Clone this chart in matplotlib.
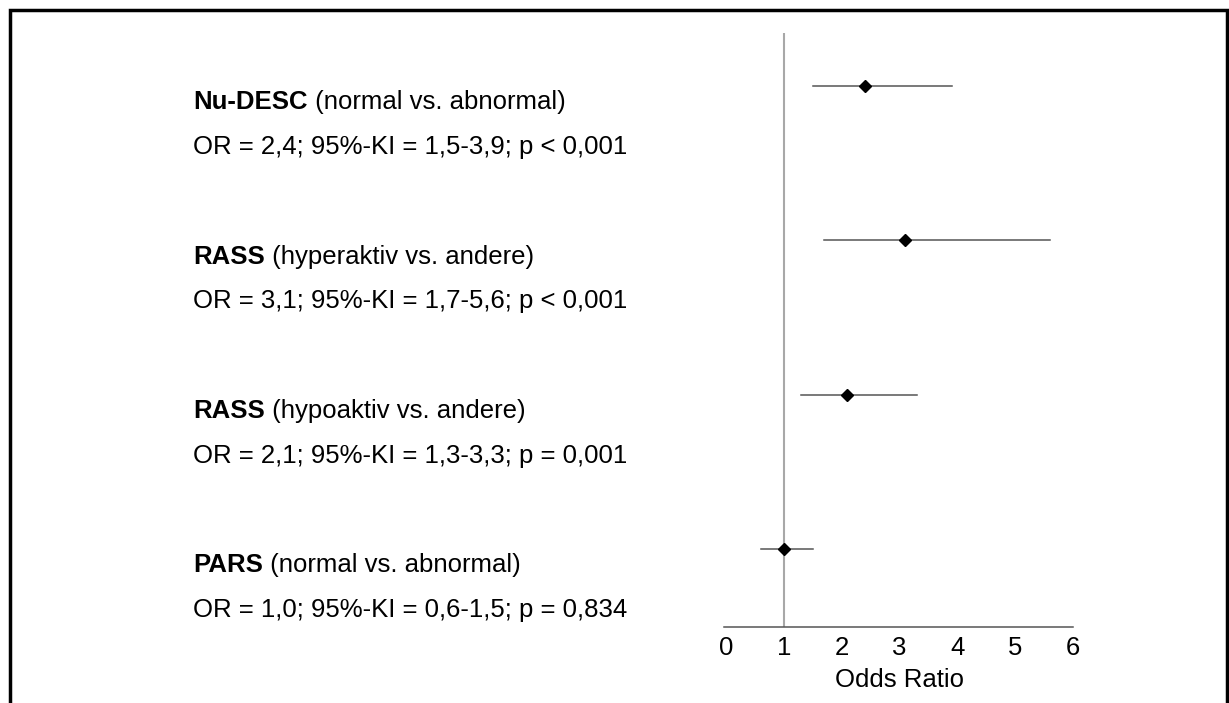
import matplotlib
matplotlib.use("Agg")
from matplotlib import pyplot as plt
from matplotlib.patches import Rectangle
import matplotlib.transforms as mtransforms

plt.rcParams['font.family'] = ['Liberation Sans', 'DejaVu Sans']

names = ["Nu-DESC", "RASS", "RASS", "PARS"]
subtitles = ["(normal vs. abnormal)", "(hyperaktiv vs. andere)",
             "(hypoaktiv vs. andere)", "(normal vs. abnormal)"]
odds = [2.4, 3.1, 2.1, 1.0]
ci_low = [1.5, 1.7, 1.3, 0.6]
ci_high = [3.9, 5.6, 3.3, 1.5]
pvals = ["p < 0,001", "p < 0,001", "p = 0,001", "p = 0,834"]

W, H = 1229, 703
fs = 18.5
fig = plt.figure(figsize=(W / 100, H / 100), dpi=100)

# axes placed in pixel terms
x0, x1 = 726, 1073
y_top, y_bot = 33, 627
ax = fig.add_axes([x0 / W, 1 - y_bot / H, (x1 - x0) / W, (y_bot - y_top) / H])

rows = list(range(len(odds)))
ax.set_xlim(0, 6)
ax.set_ylim(3.505, -0.343)

ax.axvline(1, color="#a8a8a8", lw=1.5, zorder=1)
for i in rows:
    ax.plot([ci_low[i], ci_high[i]], [i, i], color="#555555", lw=1.1, zorder=2)
ax.plot(odds, rows, linestyle="none", marker="D", color="black", ms=6, zorder=3)

for s in ["top", "right", "left"]:
    ax.spines[s].set_visible(False)
ax.spines["bottom"].set_color("#555555")
ax.spines["bottom"].set_linewidth(1.1)
ax.spines["bottom"].set_bounds(-0.03, 6)
ax.set_yticks([])
ax.set_xticks(range(7))
ax.tick_params(axis="x", length=0, labelsize=fs, pad=6.5)
ax.set_xlabel("Odds Ratio", fontsize=fs, labelpad=5.5)

# text block on the left
trans = mtransforms.blended_transform_factory(fig.transFigure, ax.transData)
tx = 193 / W
for i in rows:
    ax.text(tx, i + 0.105, names[i], transform=trans, fontsize=fs,
            fontweight="bold", va="center", ha="left")
    ax.annotate(" " + subtitles[i], xy=(1, 0.5), xycoords=ax.texts[-1],
                fontsize=fs, va="center", ha="left")
    line = "OR = %s; 95%%-KI = %s-%s; %s" % (
        str(odds[i]).replace(".", ","), str(ci_low[i]).replace(".", ","),
        str(ci_high[i]).replace(".", ","), pvals[i])
    ax.text(tx, i + 0.395, line, transform=trans, fontsize=fs,
            va="center", ha="left")

# outer frame, open at the bottom
fig.add_artist(Rectangle((10 / W, -0.1), (1227 - 10) / W, 1.1 - 10 / H,
                         transform=fig.transFigure, fill=False,
                         edgecolor="black", lw=2.5))

fig.savefig("out.png", dpi=100, facecolor="white")
